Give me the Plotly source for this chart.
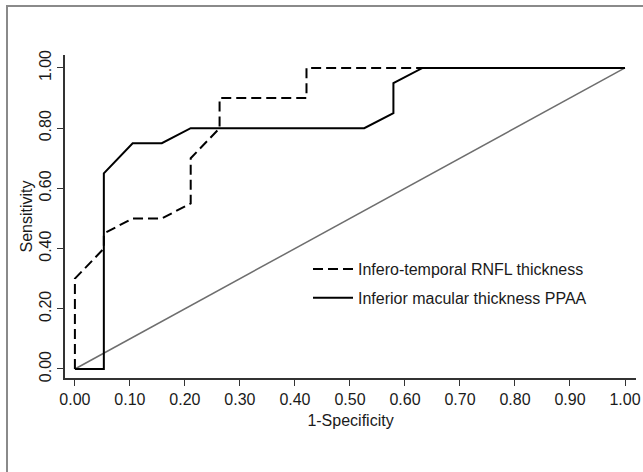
import plotly.graph_objects as go

# 1-Specificity / Sensitivity for each ROC curve
rnfl_x = [0.0, 0.0, 0.0526, 0.0526, 0.105, 0.158, 0.2105, 0.2105, 0.263, 0.263, 0.421, 0.421, 1.0]
rnfl_y = [0.0, 0.30, 0.40, 0.45, 0.50, 0.50, 0.55, 0.70, 0.80, 0.90, 0.90, 1.00, 1.00]

ppaa_x = [0.0, 0.0526, 0.0526, 0.105, 0.158, 0.2105, 0.526, 0.579, 0.579, 0.632, 1.0]
ppaa_y = [0.0, 0.0, 0.65, 0.75, 0.75, 0.80, 0.80, 0.85, 0.95, 1.00, 1.00]

ref_x = [0.0, 1.0]
ref_y = [0.0, 1.0]

tick_vals = [0.0, 0.1, 0.2, 0.3, 0.4, 0.5, 0.6, 0.7, 0.8, 0.9, 1.0]
tick_text = ["0.00", "0.10", "0.20", "0.30", "0.40", "0.50", "0.60", "0.70", "0.80", "0.90", "1.00"]
ytick_vals = [0.0, 0.2, 0.4, 0.6, 0.8, 1.0]
ytick_text = ["0.00", "0.20", "0.40", "0.60", "0.80", "1.00"]

FONT = "Liberation Sans, Arial, sans-serif"

fig = go.Figure()
fig.add_trace(go.Scatter(x=ref_x, y=ref_y, mode="lines",
                         line=dict(color="#6e6e6e", width=1.5),
                         showlegend=False, hoverinfo="skip"))
fig.add_trace(go.Scatter(x=rnfl_x, y=rnfl_y, mode="lines",
                         name="Infero-temporal RNFL thickness", legendgroup="a",
                         line=dict(color="black", width=2, dash="10px,5px")))
fig.add_trace(go.Scatter(x=ppaa_x, y=ppaa_y, mode="lines",
                         name="Inferior macular thickness PPAA", legendgroup="b",
                         line=dict(color="black", width=2)))

W, H = 643, 472
L, R, T, B = 65, 7, 55, 94
PW, PH = W - L - R, H - T - B

fig.update_layout(
    width=W, height=H,
    margin=dict(l=L, r=R, t=T, b=B, pad=0),
    paper_bgcolor="white", plot_bgcolor="white",
    font=dict(family=FONT, size=16, color="#1a1a1a"),
    legend=dict(x=(308 - L) / PW, y=(H - B - 252) / PH,
                xanchor="left", yanchor="top",
                bgcolor="rgba(0,0,0,0)", font=dict(size=16, family=FONT),
                tracegroupgap=5, itemwidth=40),
    xaxis=dict(range=[-0.018, 1.02], tickvals=tick_vals, ticktext=tick_text,
               automargin=False,
               showgrid=False, zeroline=False, showline=True, linecolor="#333333",
               linewidth=1.5, ticks="outside", ticklen=6, tickwidth=1.2, tickcolor="#333333",
               title=dict(text="1-Specificity", standoff=8, font=dict(size=16))),
    yaxis=dict(range=[-0.03, 1.043], tickvals=ytick_vals, ticktext=ytick_text,
               tickangle=-90, automargin=False,
               showgrid=False, zeroline=False, showline=True, linecolor="#333333",
               linewidth=1.5, ticks="outside", ticklen=6, tickwidth=1.2, tickcolor="#333333",
               title=dict(text="Sensitivity", standoff=0, font=dict(size=16))),
    shapes=[dict(type="rect", xref="paper", yref="paper",
                 x0=(7 - L) / PW, x1=1.2,
                 y0=-0.5, y1=(H - B - 6) / PH,
                 line=dict(color="#8a8a8a", width=2), fillcolor="rgba(0,0,0,0)",
                 layer="below")],
)

fig.write_html(
    "out.html",
    config={"displayModeBar": False},
    post_script="document.body.style.margin='0';document.body.style.overflow='hidden';",
)
